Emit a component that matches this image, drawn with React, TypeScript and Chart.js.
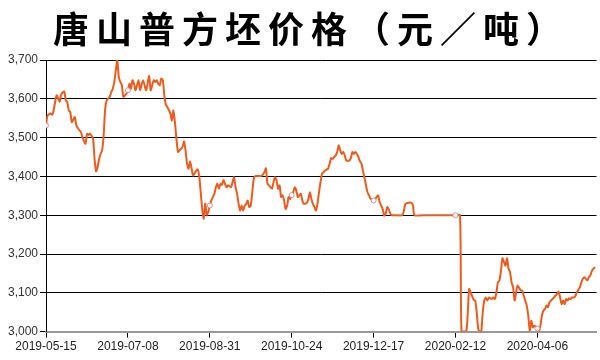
import React, { useEffect, useRef } from "react";
import { Chart, registerables } from "chart.js";

Chart.register(...registerables);

const TITLE = "唐山普方坯价格（元／吨）";

const tickIndex = [0, 54, 108, 162, 216, 270, 324];
const tickLabels = [
  "2019-05-15",
  "2019-07-08",
  "2019-08-31",
  "2019-10-24",
  "2019-12-17",
  "2020-02-12",
  "2020-04-06",
];

const dayIndex = [
  0, 1, 3, 4, 5, 7, 9, 10, 12, 13, 14, 15, 16, 17, 19, 20, 22, 23, 24, 26, 27, 28, 29, 31, 32, 33, 34, 35, 36, 37, 38, 39, 40, 42,
  43, 44, 45, 46, 47, 48, 49, 50, 51, 53, 54, 55, 56, 57, 58, 59, 61, 62, 64, 66, 68, 69, 71, 72, 73, 74, 75, 76, 77, 78, 79, 80,
  82, 83, 84, 85, 86, 87, 88, 90, 91, 92, 93, 94, 95, 96, 97, 99, 100, 101, 102, 103, 104, 105, 106, 107, 108, 109, 111, 112, 113,
  114, 115, 116, 117, 118, 119, 120, 122, 123, 124, 125, 126, 127, 128, 129, 130, 131, 132, 133, 134, 135, 136, 137, 138, 140, 142,
  144, 145, 146, 147, 149, 150, 151, 152, 153, 154, 155, 156, 157, 158, 159, 160, 161, 162, 163, 164, 165, 166, 167, 168, 169, 170,
  172, 173, 174, 175, 176, 177, 178, 179, 180, 181, 182, 183, 184, 186, 187, 188, 189, 190, 191, 192, 193, 194, 195, 196, 197, 198,
  200, 201, 202, 203, 204, 205, 206, 207, 208, 209, 211, 212, 213, 214, 215, 216, 217, 218, 219, 220, 222, 223, 224, 225, 226, 227,
  228, 230, 235, 236, 237, 239, 241, 242, 243, 250, 260, 270, 273, 274, 277, 278, 279, 280, 282, 283, 284, 285, 286, 287, 288, 289,
  290, 291, 292, 293, 294, 295, 296, 297, 298, 299, 300, 301, 302, 303, 304, 305, 306, 307, 308, 309, 310, 311, 313, 314, 315, 316,
  317, 318, 319, 320, 321, 322, 324, 325, 326, 327, 328, 329, 330, 331, 332, 333, 335, 336, 337, 338, 339, 340, 341, 342, 343, 344,
  345, 346, 347, 348, 349, 350, 352, 353, 354, 355, 356, 357, 358, 359, 360, 362,
];

const price = [
  3531, 3557, 3562, 3559, 3570, 3609, 3592, 3611, 3619, 3596, 3592, 3570, 3566, 3540, 3553, 3531, 3519, 3514, 3501, 3484, 3510,
  3507, 3510, 3497, 3445, 3413, 3424, 3445, 3458, 3467, 3506, 3574, 3596, 3605, 3617, 3626, 3643, 3673, 3699, 3656, 3643, 3635,
  3605, 3613, 3622, 3639, 3626, 3648, 3639, 3622, 3648, 3622, 3648, 3622, 3660, 3622, 3648, 3643, 3648, 3639, 3635, 3652, 3648,
  3609, 3585, 3579, 3562, 3544, 3570, 3540, 3497, 3463, 3467, 3476, 3490, 3467, 3433, 3420, 3439, 3420, 3402, 3415, 3418, 3402,
  3359, 3316, 3291, 3330, 3301, 3308, 3325, 3338, 3355, 3372, 3381, 3368, 3381, 3378, 3390, 3381, 3372, 3377, 3372, 3385, 3398,
  3372, 3355, 3329, 3312, 3325, 3312, 3325, 3329, 3338, 3321, 3325, 3359, 3394, 3401, 3401, 3401, 3411, 3421, 3381, 3377, 3368,
  3385, 3398, 3390, 3368, 3377, 3347, 3351, 3338, 3316, 3325, 3347, 3342, 3352, 3359, 3372, 3364, 3347, 3351, 3355, 3338, 3329,
  3332, 3342, 3359, 3342, 3329, 3321, 3312, 3329, 3359, 3385, 3407, 3411, 3415, 3420, 3433, 3447, 3445, 3450, 3454, 3463, 3480,
  3467, 3458, 3463, 3454, 3441, 3441, 3447, 3463, 3458, 3463, 3458, 3450, 3439, 3433, 3415, 3377, 3359, 3351, 3342, 3342, 3338,
  3341, 3347, 3351, 3334, 3316, 3299, 3304, 3321, 3315, 3304, 3300, 3300, 3300, 3312, 3329, 3332, 3332, 3325, 3300, 3300, 3300,
  3300, 3300, 3000, 3000, 3040, 3110, 3101, 3082, 3080, 3050, 3007, 3000, 3000, 3050, 3080, 3088, 3080, 3088, 3086, 3084, 3088,
  3084, 3101, 3127, 3132, 3157, 3189, 3179, 3170, 3189, 3162, 3153, 3127, 3114, 3080, 3101, 3119, 3106, 3106, 3093, 3080, 3067,
  3041, 3002, 3028, 3011, 3015, 3008, 3000, 3015, 3041, 3054, 3058, 3067, 3063, 3076, 3080, 3088, 3093, 3097, 3103, 3088, 3071,
  3080, 3071, 3084, 3080, 3086, 3084, 3088, 3088, 3091, 3101, 3114, 3127, 3136, 3140, 3136, 3132, 3140, 3145, 3157, 3166,
];

const yMin = 3000;
const yMax = 3700;
const yStep = 100;

function ChartCanvas() {
  const ref = useRef<HTMLCanvasElement | null>(null);
  useEffect(() => {
    if (!ref.current) return;
    const chart = new Chart(ref.current, {
      type: "line",
      data: {
        datasets: [
          {
            data: dayIndex.map((d, i) => ({ x: d, y: price[i] })),
            borderColor: "#ef5b1c",
            borderWidth: 2,
            tension: 0.2,
            pointRadius: (ctx: any) => (tickIndex.includes(dayIndex[ctx.dataIndex]) ? 2.5 : 0),
            pointBackgroundColor: "#ffffff",
            pointBorderColor: "#d89090",
            pointBorderWidth: 1,
            pointHoverRadius: 0,
          },
        ],
      },
      options: {
        animation: false,
        responsive: false,
        devicePixelRatio: 1,
        layout: { padding: { top: 60, left: 6, right: 2, bottom: 4 } },
        plugins: {
          legend: { display: false },
          title: { display: false },
          tooltip: { enabled: false },
        },
        scales: {
          x: {
            type: "linear",
            min: 0,
            max: 363,
            afterBuildTicks: (scale: any) => {
              scale.ticks = tickIndex.map((v) => ({ value: v }));
            },
            ticks: {
              autoSkip: false,
              maxRotation: 0,
              padding: 2,
              color: "#222",
              font: { family: "'Liberation Sans'", size: 12 },
              callback: (v: any) => {
                const k = tickIndex.indexOf(Number(v));
                return k >= 0 ? tickLabels[k] : "";
              },
            },
            grid: { drawOnChartArea: false, drawTicks: true, tickLength: 6, color: "#000" },
            border: { color: "#999", width: 2 },
          },
          y: {
            min: yMin,
            max: yMax,
            ticks: {
              stepSize: yStep,
              padding: 2,
              color: "#333",
              font: { family: "'Liberation Sans'", size: 12 },
              callback: (v: any) => Number(v).toLocaleString("en-US"),
            },
            grid: { color: "#000", lineWidth: 1, tickLength: 6 },
            border: { color: "#000", width: 1 },
          },
        },
      },
    });
    return () => chart.destroy();
  }, []);
  return <canvas ref={ref} width={600} height={360} style={{ display: "block" }} />;
}

export default function App() {
  return (
    <div style={{ position: "absolute", left: 0, top: 0, width: 600, height: 360, background: "#fff" }}>
      <ChartCanvas />
      <div
        style={{
          position: "absolute",
          left: 0,
          top: 0,
          width: 600,
          height: 54,
          lineHeight: "54px",
          textAlign: "center",
          fontFamily: "'Noto Sans CJK SC', sans-serif",
          fontWeight: 700,
          fontSize: 36,
          letterSpacing: 7,
          color: "#000",
          paddingLeft: 22,
          boxSizing: "border-box",
          whiteSpace: "nowrap",
        }}
      >
        {TITLE}
      </div>
    </div>
  );
}
